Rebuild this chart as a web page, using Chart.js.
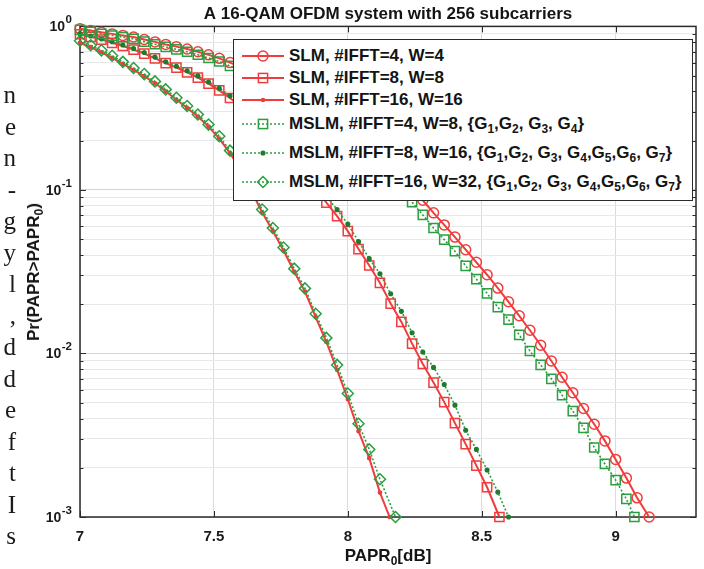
<!DOCTYPE html>
<html lang="en">
<head>
<meta charset="utf-8">
<title>A 16-QAM OFDM system with 256 subcarriers</title>
<script src="https://cdn.jsdelivr.net/npm/chart.js@4.4.1/dist/chart.umd.min.js"></script>
<style>
html, body { margin: 0; padding: 0; background: #fff; }
#wrap { position: relative; width: 704px; height: 569px; overflow: hidden; background: #fff; }
#chart { position: absolute; left: 0; top: 0; }
#page-edge { position: absolute; left: 0; top: 79px; width: 16px; text-align: right;
  font: 25px/31.5px "Liberation Serif", "DejaVu Serif", serif; color: #1a1a1a; }
.axis-title { position: absolute; white-space: nowrap; line-height: 20px;
  font: bold 17px/20px "Liberation Sans", Arial, sans-serif; color: #141414; }
#x-title { top: 546px; transform: translateX(-50%); }
#y-title { left: 34px; transform: translate(-50%, -50%) rotate(-90deg); }
.axis-title sub, #legend sub { font-size: 12px; line-height: 0; vertical-align: -4px; }
#legend { position: absolute; left: 233px; top: 39px; width: 460px; height: 162px; box-sizing: border-box;
  background: #fff; border: 1.5px solid #2b2b2b;
  font: bold 17px "Liberation Sans", Arial, sans-serif; color: #141414; }
#legend .row { position: absolute; left: 8px; height: 20px; display: flex; align-items: center; white-space: nowrap; }
#legend svg { margin-right: 5px; flex: none; }
</style>
</head>
<body>
<div id="wrap">
  <canvas id="chart" width="704" height="569"></canvas>
  <div id="page-edge"></div>
  <div id="x-title" class="axis-title">PAPR<sub>0</sub>[dB]</div>
  <div id="y-title" class="axis-title">Pr(PAPR&gt;PAPR<sub>0</sub>)</div>
  <div id="legend"></div>
</div>
<script>
(function () {

// PAPR0 grid in dB, one marker per value
const papr = [
    7.00, 7.04, 7.08, 7.12, 7.16, 7.20, 7.24, 7.28, 7.32, 7.36,
    7.40, 7.44, 7.48, 7.52, 7.56, 7.60, 7.64, 7.68, 7.72, 7.76,
    7.80, 7.84, 7.88, 7.92, 7.96, 8.00, 8.04, 8.08, 8.12, 8.16,
    8.20, 8.24, 8.28, 8.32, 8.36, 8.40, 8.44, 8.48, 8.52, 8.56,
    8.60, 8.64, 8.68, 8.72, 8.76, 8.80, 8.84, 8.88, 8.92, 8.96,
    9.00, 9.04, 9.08
];

// Pr(PAPR > PAPR0) at the grid points above;
// each curve stops where it reaches the bottom of the axis
const slm4 = [
    0.966, 0.944, 0.920, 0.900, 0.881, 0.861, 0.832, 0.804, 0.776, 0.752,
    0.728, 0.700, 0.670, 0.638, 0.601, 0.565, 0.528, 0.493, 0.458, 0.424,
    0.390, 0.357, 0.325, 0.294, 0.265, 0.237, 0.210, 0.185, 0.162, 0.140,
    0.121, 0.1026, 0.0865, 0.0724, 0.0611, 0.0515, 0.0431, 0.0361, 0.0303, 0.0251,
    0.0207, 0.0170, 0.01387, 0.01122, 0.00899, 0.00716, 0.00575, 0.00461, 0.00369, 0.00292,
    0.00225, 0.00173, 0.00131
];
const slm8 = [
    0.895, 0.863, 0.830, 0.794, 0.759, 0.721, 0.681, 0.637, 0.596, 0.560,
    0.524, 0.486, 0.447, 0.406, 0.365, 0.324, 0.285, 0.248, 0.213, 0.181,
    0.151, 0.126, 0.103, 0.0836, 0.0692, 0.0560, 0.0435, 0.0345, 0.0270, 0.0202,
    0.0156, 0.01148, 0.00863, 0.00664, 0.00504, 0.00375, 0.00279, 0.00206, 0.00152
];
const slm16 = [
    0.794, 0.746, 0.695, 0.643, 0.590, 0.542, 0.497, 0.449, 0.401, 0.356,
    0.317, 0.281, 0.244, 0.206, 0.168, 0.132, 0.0986, 0.0729, 0.0561, 0.0426,
    0.0316, 0.0239, 0.0167, 0.01175, 0.00794, 0.00525, 0.00335, 0.00229, 0.00141
];
const mslm4 = [
    0.951, 0.927, 0.902, 0.879, 0.859, 0.838, 0.807, 0.778, 0.750, 0.724,
    0.700, 0.671, 0.641, 0.610, 0.573, 0.535, 0.497, 0.460, 0.424, 0.388,
    0.354, 0.321, 0.290, 0.260, 0.232, 0.205, 0.180, 0.157, 0.136, 0.117,
    0.0998, 0.0841, 0.0703, 0.0585, 0.0497, 0.0422, 0.0343, 0.0285, 0.0233, 0.0192,
    0.0161, 0.0130, 0.01035, 0.00851, 0.00700, 0.00556, 0.00444, 0.00351, 0.00266, 0.00211,
    0.00168, 0.00129
];
const mslm8 = [
    0.904, 0.873, 0.839, 0.805, 0.769, 0.733, 0.692, 0.649, 0.607, 0.571,
    0.535, 0.498, 0.457, 0.418, 0.377, 0.337, 0.297, 0.259, 0.224, 0.192,
    0.162, 0.135, 0.112, 0.0912, 0.0759, 0.0618, 0.0484, 0.0380, 0.0307, 0.0232,
    0.0181, 0.0134, 0.0102, 0.00822, 0.00646, 0.00483, 0.00339, 0.00259, 0.00194, 0.00142
];
const mslm16 = [
    0.817, 0.767, 0.714, 0.661, 0.607, 0.557, 0.511, 0.461, 0.412, 0.366,
    0.326, 0.289, 0.251, 0.213, 0.174, 0.137, 0.102, 0.0759, 0.0585, 0.0445,
    0.0330, 0.0250, 0.0175, 0.01245, 0.00851, 0.00569, 0.00372, 0.00259, 0.00170
];

// PAPR0 where each curve hits the 10^-3 floor (same order as seriesNames)
const endPapr = [9.125, 8.566, 8.156, 9.07, 8.60, 8.178];
const floorProb = 1e-3;

const seriesNames = [
    'SLM, #IFFT=4, W=4',
    'SLM, #IFFT=8, W=8',
    'SLM, #IFFT=16, W=16',
    'MSLM, #IFFT=4, W=8, {G\u2081,G\u2082, G\u2083, G\u2084}',
    'MSLM, #IFFT=8, W=16, {G\u2081,G\u2082, G\u2083, G\u2084,G\u2085,G\u2086, G\u2087}',
    'MSLM, #IFFT=16, W=32, {G\u2081,G\u2082, G\u2083, G\u2084,G\u2085,G\u2086, G\u2087}'
];

const paprTicks = [7, 7.5, 8, 8.5, 9];
const probDecades = [0.001, 0.01, 0.1, 1];
const probDecadeExponents = ['-3', '-2', '-1', '0'];
const probMantissas = [1, 2, 3, 4, 5, 6, 7, 8, 9];

// tail of the neighbouring column of the paper, cut by the figure
const marginLetters = ['n', 'e', 'n', '-', 'g', 'y', 'l', ',', 'd', 'd', 'e', 'f', 't', 'I', 's'];

const RED = '#f03c3c',
    GREEN = '#2b9e40',
    DARK_GREEN = '#1f7a30',
    INK = '#1a1a1a',
    FONT = '"Liberation Sans", Arial, Helvetica, sans-serif';

const styles = [
    {color: RED, dash: [], width: 2, point: 'circle', r: 5, fill: 'rgba(0,0,0,0)'},
    {color: RED, dash: [], width: 2, point: 'rect', r: 6.5, fill: 'rgba(0,0,0,0)'},
    {color: RED, dash: [], width: 2, point: 'circle', r: 1.6, fill: RED},
    {color: GREEN, dash: [2, 2], width: 1.6, point: 'rect', r: 6.5, fill: 'rgba(0,0,0,0)'},
    {color: GREEN, dash: [2, 2], width: 1.6, point: 'circle', r: 1.8, fill: DARK_GREEN},
    {color: GREEN, dash: [2, 2], width: 1.6, point: 'rectRot', r: 5.5, fill: 'rgba(0,0,0,0)'}
];

const legendRowY = [15.5, 37.5, 59.5, 83.5, 112.5, 141.5];

function curve(values, end) {
    return values.map((p, i) => ({x: papr[i], y: p})).concat([{x: end, y: floorProb}]);
}

const allValues = [slm4, slm8, slm16, mslm4, mslm8, mslm16];

const datasets = allValues.map((values, i) => {
    const s = styles[i];
    return {
        label: seriesNames[i],
        data: curve(values, endPapr[i]),
        borderColor: s.color,
        borderWidth: s.width,
        borderDash: s.dash,
        pointStyle: s.point,
        pointRadius: s.r,
        pointBorderWidth: 1.5,
        pointBorderColor: s.point === 'circle' && s.r < 3 ? s.fill : s.color,
        pointBackgroundColor: s.fill,
        tension: 0,
        clip: false,
        // MSLM curves sit on top of the SLM ones
        order: i < 3 ? 1 : 0
    };
});

const probTicks = probDecades.slice(0, 3)
    .flatMap(d => probMantissas.map(m => +(m * d).toPrecision(3)))
    .concat([1]);

function isDecade(v) {
    const l = Math.log10(v);
    return Math.abs(l - Math.round(l)) < 1e-9;
}

// axes box with inward ticks, drawn under the curves
const frame = {
    id: 'frame',
    beforeDatasetsDraw(chart) {
        const {ctx, chartArea: a, scales: {x, y}} = chart;
        ctx.save();
        ctx.strokeStyle = '#2b2b2b';
        ctx.lineWidth = 1;
        ctx.beginPath();
        y.ticks.forEach(t => {
            const py = Math.round(y.getPixelForValue(t.value)) + 0.5,
                len = isDecade(t.value) ? 6 : 3.5;
            ctx.moveTo(a.left, py); ctx.lineTo(a.left + len, py);
            ctx.moveTo(a.right, py); ctx.lineTo(a.right - len, py);
        });
        x.ticks.forEach(t => {
            const px = Math.round(x.getPixelForValue(t.value)) + 0.5;
            ctx.moveTo(px, a.bottom); ctx.lineTo(px, a.bottom - 6);
            ctx.moveTo(px, a.top); ctx.lineTo(px, a.top + 6);
        });
        ctx.stroke();
        ctx.lineWidth = 1.5;
        ctx.strokeRect(a.left, a.top, a.right - a.left, a.bottom - a.top);
        ctx.restore();
    }
};

// decade labels 10^k with a raised exponent
const decadeLabels = {
    id: 'decadeLabels',
    afterDraw(chart) {
        const {ctx, scales: {y}} = chart,
            right = y.right - 8;
        ctx.save();
        ctx.fillStyle = INK;
        ctx.textBaseline = 'middle';
        probDecades.forEach((d, k) => {
            const py = y.getPixelForValue(d),
                exp = probDecadeExponents[k];
            ctx.font = 'bold 11.5px ' + FONT;
            const ew = ctx.measureText(exp).width;
            ctx.textAlign = 'left';
            ctx.fillText(exp, right - ew, py - 6.5);
            ctx.font = 'bold 14px ' + FONT;
            ctx.textAlign = 'right';
            ctx.fillText('10', right - ew - 0.5, py + 1);
        });
        ctx.restore();
    }
};

const config = {
    type: 'line',
    data: {datasets: datasets},
    options: {
        responsive: false,
        animation: false,
        events: [],
        layout: {padding: {left: 0, right: 4, top: 0, bottom: 0}},
        plugins: {
            legend: {display: false},
            tooltip: {enabled: false},
            title: {
                display: true,
                fullSize: false,
                text: 'A 16-QAM OFDM system with 256 subcarriers',
                color: '#141414',
                font: {family: FONT, size: 17, weight: 'bold'},
                padding: {top: 4, bottom: 2}
            }
        },
        scales: {
            x: {
                type: 'linear',
                min: 7,
                max: 9.3,
                afterFit: axis => { axis.height = 52; },
                afterBuildTicks: axis => { axis.ticks = paprTicks.map(v => ({value: v})); },
                border: {display: false},
                grid: {color: '#dcdcdc', lineWidth: 1, drawTicks: false},
                ticks: {
                    padding: 11,
                    color: INK,
                    font: {family: FONT, size: 15, weight: 'bold'},
                    callback: v => String(v)
                }
            },
            y: {
                type: 'logarithmic',
                min: floorProb,
                max: 1,
                afterFit: axis => { axis.width = 80; },
                afterBuildTicks: axis => { axis.ticks = probTicks.map(v => ({value: v})); },
                border: {display: false},
                grid: {
                    color: c => (c.tick && isDecade(c.tick.value)) ? '#d4d4d4' : '#e8e8e8',
                    lineWidth: 1,
                    drawTicks: false
                },
                ticks: {display: false, autoSkip: false}
            }
        }
    },
    plugins: [frame, decadeLabels]
};

const chart = new Chart(document.getElementById('chart').getContext('2d'), config);

// axis titles centred on the plot area
const area = chart.chartArea;
document.getElementById('x-title').style.left = ((area.left + area.right) / 2) + 'px';
document.getElementById('y-title').style.top = ((area.top + area.bottom) / 2) + 'px';

// legend box inside the axes, built from the datasets
function sampleSvg(ds) {
    const w = 42, h = 20, cx = 21, cy = 10, r = ds.pointRadius;
    let marker;
    if (ds.pointStyle === 'rect') {
        const side = r * Math.SQRT2;
        marker = `<rect x="${cx - side / 2}" y="${cy - side / 2}" width="${side}" height="${side}"`;
    } else if (ds.pointStyle === 'rectRot') {
        marker = `<polygon points="${cx - r},${cy} ${cx},${cy - r} ${cx + r},${cy} ${cx},${cy + r}"`;
    } else {
        marker = `<circle cx="${cx}" cy="${cy}" r="${r}"`;
    }
    const fill = ds.pointBackgroundColor === 'rgba(0,0,0,0)' ? 'none' : ds.pointBackgroundColor;
    marker += ` fill="${fill}" stroke="${ds.pointBorderColor}" stroke-width="1.5"/>`;
    const dash = ds.borderDash.length ? ` stroke-dasharray="${ds.borderDash.join(' ')}"` : '';
    return `<svg width="${w}" height="${h}" viewBox="0 0 ${w} ${h}">` +
        `<line x1="0" y1="${cy}" x2="${w}" y2="${cy}" stroke="${ds.borderColor}" stroke-width="${ds.borderWidth}"${dash}/>` +
        marker + '</svg>';
}

function withSubscripts(text) {
    return text.replace(/[\u2080-\u2089]/g, ch => '<sub>' + (ch.charCodeAt(0) - 0x2080) + '</sub>');
}

const legend = document.getElementById('legend');
datasets.forEach((ds, i) => {
    const row = document.createElement('div');
    row.className = 'row';
    row.style.top = (legendRowY[i] - 10) + 'px';
    row.innerHTML = sampleSvg(ds) + '<span>' + withSubscripts(ds.label) + '</span>';
    legend.appendChild(row);
});

document.getElementById('page-edge').innerHTML = marginLetters.join('<br>');

})();
</script>
</body>
</html>
